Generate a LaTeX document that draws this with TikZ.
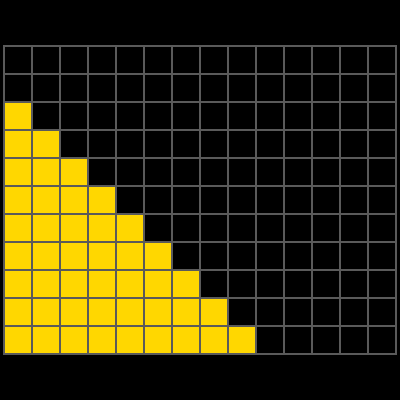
\documentclass[tikz,border=0pt]{standalone}
\usepackage{xcolor}
\usepackage{tikz}
\definecolor{cellyellow}{HTML}{FFD700}
\definecolor{gridgray}{HTML}{5A5A5A}

\begin{document}
\begin{tikzpicture}[
    x=28bp, y=28bp,
    cell/.style={fill=cellyellow},
    gridline/.style={draw=gridgray, line width=2.2bp, line cap=rect}
  ]
    \fill[black] (-4/28,-46/28) rectangle (396/28,354/28);
    \useasboundingbox (-4/28,-46/28) rectangle (396/28,354/28);
    % staircase of filled cells
    \foreach \r in {0,...,8} {
      \pgfmathtruncatemacro{\n}{8-\r}
      \foreach \c in {0,...,\n}
        \fill[cell] (\c,\r) rectangle ++(1,1);
    }
    % grid lines
    \foreach \c in {0,...,14}
      \draw[gridline] (\c,0) -- (\c,11);
    \foreach \r in {0,...,11}
      \draw[gridline] (0,\r) -- (14,\r);
  \end{tikzpicture}
\end{document}
